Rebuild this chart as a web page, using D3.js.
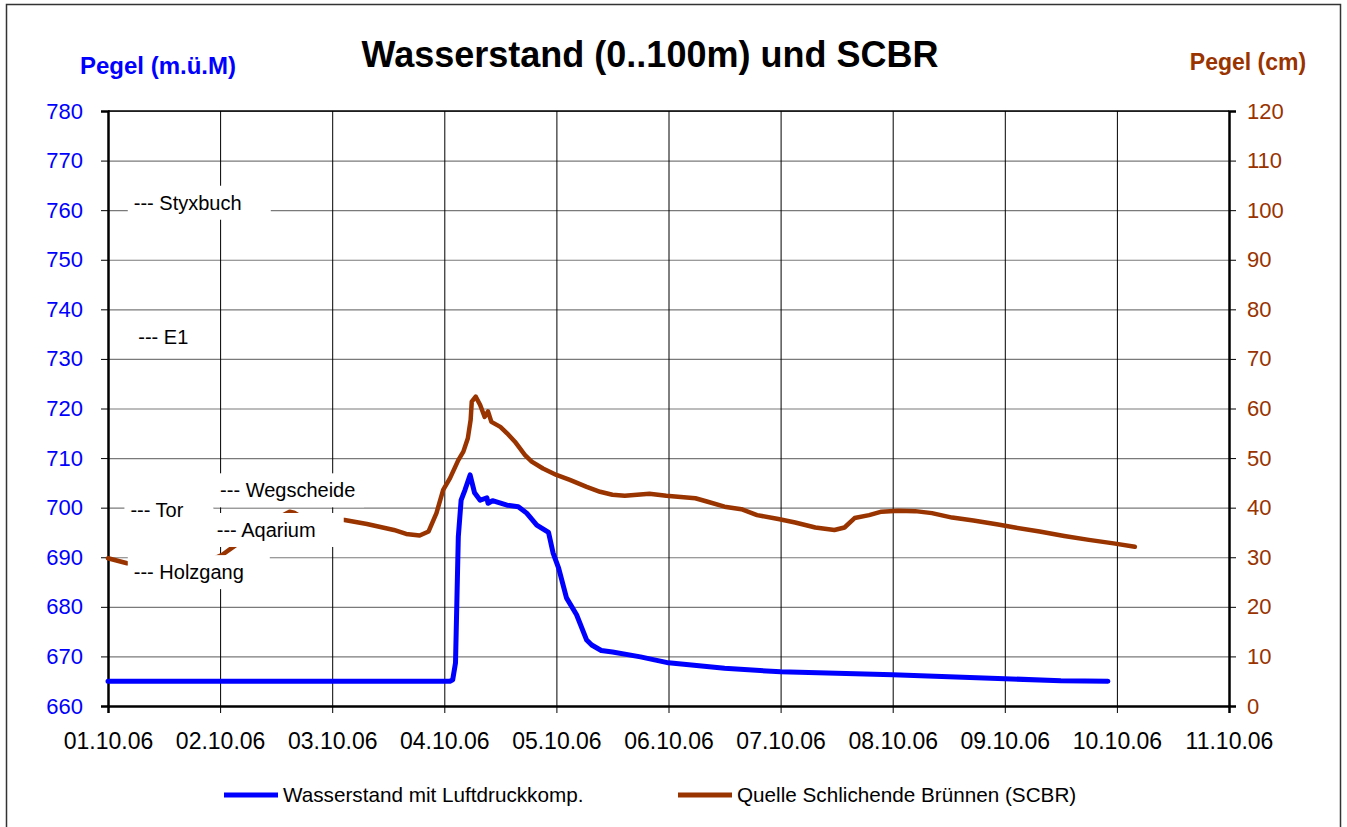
<!DOCTYPE html>
<html lang="de">
<head>
<meta charset="utf-8">
<script src="https://d3js.org/d3.v7.min.js"></script>
<style>
    body { margin: 0; background: #fff; }
    text { font-family: Arial, "Liberation Sans", sans-serif; }
</style>
</head>
<body>
<script>
    // x values are days after 01.10.06 00:00
    var dateLabels = ["01.10.06", "02.10.06", "03.10.06", "04.10.06", "05.10.06", "06.10.06",
                      "07.10.06", "08.10.06", "09.10.06", "10.10.06", "11.10.06"];
    var leftTicks = [660, 670, 680, 690, 700, 710, 720, 730, 740, 750, 760, 770, 780];
    var rightTicks = [0, 10, 20, 30, 40, 50, 60, 70, 80, 90, 100, 110, 120];

    // Wasserstand mit Luftdruckkomp. (m.ü.M)
    var wasserDays = [0, 3.05, 3.075, 3.10, 3.125, 3.15, 3.185, 3.23, 3.27, 3.32, 3.38, 3.39, 3.43,
                      3.56, 3.66, 3.735, 3.825, 3.93, 3.97, 4.02, 4.09, 4.18, 4.27, 4.315, 4.40,
                      4.50, 4.75, 5.0, 5.5, 6.0, 7.0, 8.0, 8.5, 8.92];
    var wasserVals = [665, 665, 665.3, 668.7, 694.1, 701.5, 703.6, 706.6, 703.0, 701.5, 702.0, 700.9, 701.4,
                      700.5, 700.2, 698.9, 696.5, 695.0, 690.9, 687.8, 681.8, 678.4, 673.3, 672.3, 671.2,
                      670.9, 669.9, 668.7, 667.6, 666.9, 666.3, 665.5, 665.1, 665.0];

    // Quelle Schlichende Brünnen (SCBR) (cm)
    var scbrDays = [0, 0.17, 0.5, 0.85, 1.02, 1.13, 1.40, 1.62, 1.66, 1.72, 1.89, 2.11, 2.31, 2.55, 2.66,
                    2.78, 2.86, 2.93, 2.99, 3.05, 3.125, 3.17, 3.21, 3.235, 3.245, 3.28, 3.32, 3.36,
                    3.39, 3.42, 3.50, 3.56, 3.63, 3.72, 3.78, 3.88, 4.00, 4.12, 4.27, 4.39, 4.50,
                    4.61, 4.83, 4.98, 5.24, 5.35, 5.50, 5.65, 5.79, 5.98, 6.13, 6.31, 6.48, 6.57,
                    6.66, 6.79, 6.90, 7.05, 7.20, 7.35, 7.53, 7.72, 7.94, 8.09, 8.31, 8.53, 8.75,
                    8.97, 9.16];
    var scbrVals = [29.8, 28.8, 28.5, 28.8, 30.5, 32.3, 36.5, 39.2, 39.0, 38.2, 37.8, 37.5, 36.7, 35.5, 34.7,
                    34.4, 35.2, 38.9, 43.6, 45.9, 49.6, 51.3, 54.0, 57.7, 61.4, 62.4, 60.7, 58.3,
                    59.4, 57.3, 56.3, 55.0, 53.3, 50.6, 49.3, 47.9, 46.6, 45.6, 44.2, 43.2, 42.6,
                    42.4, 42.8, 42.4, 41.9, 41.2, 40.2, 39.7, 38.5, 37.7, 37.0, 36.0, 35.5, 36.0,
                    37.9, 38.5, 39.2, 39.4, 39.3, 38.9, 38.0, 37.4, 36.6, 36.0, 35.2, 34.3, 33.5,
                    32.8, 32.1];

    var stations = ["--- Styxbuch", "--- E1", "--- Wegscheide", "--- Tor", "--- Aqarium", "--- Holzgang"];
    var stationDays = [0.23, 0.27, 1.0, 0.2, 0.97, 0.23];
    var stationVals = [761.5, 734.5, 703.5, 699.5, 695.5, 687];

    var blue = "#0000ff", brown = "#993300";

    var margin = {top: 111, right: 118, bottom: 121, left: 108},
        W = 1347, H = 827,
        width = W - margin.left - margin.right,
        height = H - margin.top - margin.bottom;

    var svg = d3.select("body").append("svg")
        .attr("width", W)
        .attr("height", H);

    svg.append("rect").attr("width", W).attr("height", H).attr("fill", "#fff");
    // outer chart frame
    svg.append("rect")
        .attr("x", 6.5).attr("y", 4.5)
        .attr("width", 1334).attr("height", 840)
        .attr("fill", "none").attr("stroke", "#333").attr("stroke-width", 1.5);

    var g = svg.append("g").attr("transform", "translate(" + margin.left + "," + margin.top + ")");

    var x = d3.scaleLinear().domain([0, 10]).range([0, width]);
    var yL = d3.scaleLinear().domain([660, 780]).range([height, 0]);
    var yR = d3.scaleLinear().domain([0, 120]).range([height, 0]);

    // grid
    g.append("g")
        .call(d3.axisLeft(yL).tickValues(leftTicks).tickSize(-width).tickFormat(""))
        .call(function(s) {
            s.select(".domain").remove();
            s.selectAll("line").attr("stroke", "#7a7a7a").attr("stroke-width", 1.2);
        });
    g.append("g")
        .call(d3.axisBottom(x).tickValues(d3.range(0, 11)).tickSize(height).tickFormat(""))
        .call(function(s) {
            s.select(".domain").remove();
            s.selectAll("line").attr("stroke", "#000").attr("stroke-width", 1);
        });

    // axes
    g.append("g")
        .call(d3.axisLeft(yL).tickValues(leftTicks).tickSize(7).tickPadding(18))
        .call(function(s) {
            s.select(".domain").attr("stroke", "#000").attr("stroke-width", 2.5);
            s.selectAll("line").attr("stroke", "#000");
            s.selectAll("text").attr("fill", blue).style("font-size", "22px")
                .style("font-family", "Arial, 'Liberation Sans', sans-serif");
        });
    g.append("g")
        .attr("transform", "translate(" + width + ",0)")
        .call(d3.axisRight(yR).tickValues(rightTicks).tickSize(7).tickPadding(11))
        .call(function(s) {
            s.select(".domain").attr("stroke", "#000").attr("stroke-width", 2.5);
            s.selectAll("line").attr("stroke", "#000");
            s.selectAll("text").attr("fill", brown).style("font-size", "22px")
                .style("font-family", "Arial, 'Liberation Sans', sans-serif");
        });
    g.append("g")
        .attr("transform", "translate(0," + height + ")")
        .call(d3.axisBottom(x).tickValues(d3.range(0, 11)).tickSize(7).tickPadding(20)
            .tickFormat(function(d) { return dateLabels[d]; }))
        .call(function(s) {
            s.select(".domain").attr("stroke", "#000").attr("stroke-width", 2.5);
            s.selectAll("line").attr("stroke", "#000");
            s.selectAll("text").attr("fill", "#000").style("font-size", "23px")
                .style("font-family", "Arial, 'Liberation Sans', sans-serif");
        });
    g.append("line")
        .attr("x1", 0).attr("x2", width).attr("y1", 0).attr("y2", 0)
        .attr("stroke", "#000").attr("stroke-width", 1.5);

    // series
    var lineL = d3.line().x(function(d) { return x(d[0]); }).y(function(d) { return yL(d[1]); });
    var lineR = d3.line().x(function(d) { return x(d[0]); }).y(function(d) { return yR(d[1]); });

    g.append("path")
        .datum(d3.zip(scbrDays, scbrVals))
        .attr("d", lineR)
        .attr("fill", "none").attr("stroke", brown).attr("stroke-width", 4.5)
        .attr("stroke-linejoin", "round").attr("stroke-linecap", "round");
    g.append("path")
        .datum(d3.zip(wasserDays, wasserVals))
        .attr("d", lineL)
        .attr("fill", "none").attr("stroke", blue).attr("stroke-width", 5)
        .attr("stroke-linejoin", "round").attr("stroke-linecap", "round");

    // station labels (white text boxes over the plot)
    var boxW = [143, 70, 150, 89, 133, 142];
    var lbl = g.append("g").selectAll("g")
        .data(stations)
        .enter().append("g")
        .attr("transform", function(d, i) {
            return "translate(" + x(stationDays[i]) + "," + yL(stationVals[i]) + ")";
        });
    lbl.append("rect")
        .attr("x", -6).attr("y", -17)
        .attr("width", function(d, i) { return boxW[i]; })
        .attr("height", 34)
        .attr("fill", "#fff");
    lbl.append("text")
        .attr("dy", "0.35em")
        .style("font-size", "20px")
        .attr("fill", "#000")
        .text(function(d) { return d; });

    // titles
    svg.append("text")
        .attr("x", 650).attr("y", 67)
        .attr("text-anchor", "middle")
        .style("font-size", "36px").style("font-weight", "bold")
        .text("Wasserstand (0..100m) und SCBR");
    svg.append("text")
        .attr("x", 158).attr("y", 74)
        .attr("text-anchor", "middle")
        .attr("fill", blue)
        .style("font-size", "24px").style("font-weight", "bold")
        .text("Pegel (m.ü.M)");
    svg.append("text")
        .attr("x", 1248).attr("y", 70)
        .attr("text-anchor", "middle")
        .attr("fill", brown)
        .style("font-size", "23px").style("font-weight", "bold")
        .text("Pegel (cm)");

    // legend
    var legendNames = ["Wasserstand mit Luftdruckkomp.", "Quelle Schlichende Brünnen (SCBR)"];
    var legendColors = [blue, brown];
    var legendX = [224, 678];
    var leg = svg.append("g").selectAll("g")
        .data(legendNames)
        .enter().append("g")
        .attr("transform", function(d, i) { return "translate(" + legendX[i] + ",795)"; });
    leg.append("line")
        .attr("x1", 0).attr("x2", 54)
        .attr("stroke", function(d, i) { return legendColors[i]; })
        .attr("stroke-width", 5);
    leg.append("text")
        .attr("x", 59).attr("dy", "0.35em")
        .style("font-size", "20.7px")
        .text(function(d) { return d; });
</script>
</body>
</html>
